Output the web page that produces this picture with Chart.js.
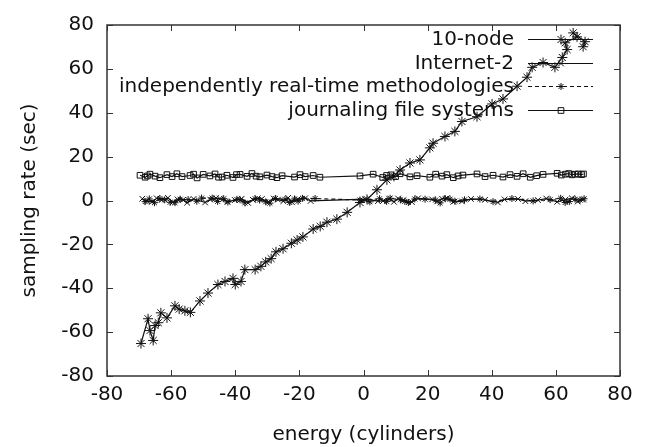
<!DOCTYPE html>
<html>
<head>
<meta charset="utf-8">
<script src="https://cdn.jsdelivr.net/npm/chart.js@4"></script>
<style>
    body { margin: 0; background: #fff; }
    canvas { display: block; }
</style>
</head>
<body>
<canvas id="energyChart" width="651" height="447"></canvas>
<script>
// tick labels
const xTicks = [-80, -60, -40, -20, 0, 20, 40, 60, 80];
const yTicks = [-80, -60, -40, -20, 0, 20, 40, 60, 80];

// series names
const seriesNames = ['10-node', 'Internet-2', 'independently real-time methodologies', 'journaling file systems'];

// 10-node (diagonal)
const tenNodeX = [-69.4, -67.2, -66.6, -65.6, -65.0, -64.0, -63.2, -61.3, -58.8, -57.5, -55.7, -54.0, -51.0, -48.5, -45.4, -43.2,
    -40.7, -40.0, -38.2, -37.0, -33.8, -32.0, -30.5, -28.8, -27.3, -25.1, -22.5, -20.7, -18.9, -15.7, -13.5, -11.4, -8.3, -5.1,
    -1.1, 1.1, 4.2, 7.3, 9.5, 11.4, 14.5, 17.6, 20.7, 21.7, 25.4, 28.5, 30.7, 35.4, 40.1, 43.5, 47.9, 51.0, 52.6, 56.0, 59.7,
    62.0, 63.5, 62.9, 66.6, 65.4, 69.1, 68.5];
const tenNodeY = [-65.2, -53.9, -59.3, -63.8, -57.0, -55.7, -51.2, -53.5, -48.0, -49.5, -50.3, -51.0, -45.8, -42.2, -38.3, -36.9,
    -35.5, -38.3, -36.9, -31.5, -31.5, -30.0, -28.0, -26.5, -23.4, -22.0, -19.5, -18.0, -16.6, -13.0, -11.8, -9.9, -8.5, -5.4,
    -0.9, 0.5, 4.9, 9.4, 11.0, 13.9, 17.1, 18.5, 24.0, 26.1, 29.2, 31.5, 36.0, 38.2, 44.0, 46.3, 52.1, 56.2, 60.7, 62.9, 60.7,
    65.2, 68.8, 71.9, 74.6, 76.4, 72.4, 70.1];

// Internet-2 (around 0)
const internetX = [-69, -67.5, -66, -64.5, -63, -61, -59.5, -58, -56.3, -55, -53, -49.4, -47.8, -46, -44.8, -42.5, -40.1, -38,
    -36, -34.5, -33, -31.7, -29.5, -28, -26.7, -25, -23.5, -22.3, -20.5, -18.2, -16.5, 0.5, 4.5, 6.1, 8, 9.5, 10.8, 12.5, 15.1,
    17, 21.4, 23, 24.5, 26, 28, 30.7, 33.5, 37.9, 41.9, 44, 48.2, 50.5, 54.4, 57, 60.4, 63, 65, 66.8, 68.5];
const internetY = [0.8, -0.4, -0.6, 1.0, 0.2, 1.2, -0.8, 0.5, 0.3, -1.0, 0.7, -0.9, 0.4, 1.1, 0.9, -0.5, 0.2, 0.8,
    -1.1, 0.3, 1.0, 0.7, -0.6, 0.9, 0.4, -0.3, 1.2, -0.8, 0.6, 1.0, -0.2, 0.6, -0.3, -0.2, 0.8, -0.6, 0.9, 0.2, -0.7,
    1.0, 0.5, -0.4, 0.8, 1.1, -0.6, -0.4, 0.7, 0.3, -0.9, 0.5, 0.7, -0.3, 0.2, 0.9, -0.6, 0.4, 1.0, -0.5, 0.4];

// independently real-time methodologies (around 0, dashed)
const realTimeX = [-68.1, -66.8, -65.2, -63.5, -62, -60.3, -58.8, -57.2, -54.7, -52, -50.5, -47.2, -45.5, -43.6, -42.3, -39.5,
    -38.5, -37, -33.8, -32.4, -30.5, -29.2, -27.5, -24.5, -23, -21.5, -20.4, -19, -15.1, -1.1, 2, 5, 7.2, 8.3, 11.5, 12.9,
    14, 16, 19.2, 22.5, 23.9, 25.5, 27, 28.5, 31.5, 36.3, 40.4, 46.3, 52.9, 58.2, 61.5, 62.9, 64.2, 66, 67.5, 68.8];
const realTimeY = [-0.5, 0.7, -1.0, 0.9, 0.3, -0.8, -1.0, 0.6, 0.4, -0.3, 1.1, 1.1, -0.4, 0.8, -0.7, 0.5,
    0.3, -1.1, 0.8, 0.2, -0.6, -1.2, 0.9, 0.5, -0.9, 0.7, -0.3, 1.0, 0.9, 0.2, -0.6, 0.8, -0.4, 1.0, 0.3, -0.4,
    -0.9, 0.7, 0.6, 0.2, -1.1, 0.8, 0.6, -0.3, 0.3, 0.7, -0.5, 0.9, -0.2, 0.4, 1.0, -0.9, -0.5, 0.6, 0.2, 0.8];

// journaling file systems (around 11)
const journalingX = [-69.7, -68.1, -67.4, -66.6, -65, -63.5, -61.3, -59.7, -58.2, -56.6, -54.1, -53, -51.9, -50, -47.9,
    -46.3, -45.2, -44.1, -42.6, -40.7, -39.6, -38.5, -36.3, -34.8, -33.5, -32.3, -30.1, -28.5, -27, -25.4, -21.5, -19.8,
    -18.2, -15.7, -13.6, -1.1, 3, 6, 7.2, 8.5, 10, 11.4, 14.5, 16.7, 20.7, 22.5, 24.5, 26, 28, 29.5, 31, 35.4, 37.9, 40.4,
    43.5, 45.7, 47.9, 49.8, 52, 54, 56, 60.4, 61.7, 63, 64, 65, 66, 67, 68, 68.6];
const journalingY = [11.5, 10.6, 11.2, 12.0, 11.1, 10.4, 11.8, 10.9, 12.2, 10.9, 11.4, 12.0, 10.3, 11.9, 11.2,
    12.1, 10.6, 10.7, 11.5, 10.5, 11.8, 11.9, 11.0, 12.3, 11.1, 10.8, 11.6, 10.9, 10.4, 11.3, 10.7, 11.8,
    10.9, 11.4, 10.6, 11.2, 12.0, 10.5, 11.4, 11.7, 10.9, 12.2, 10.8, 11.3, 10.6, 12.0, 11.1, 11.8, 10.4, 11.2,
    11.6, 12.1, 10.9, 11.5, 10.7, 11.8, 11.0, 12.2, 10.6, 11.3, 11.9, 12.4, 11.6, 12.0, 12.3, 11.7, 12.0, 12.1, 11.8, 12.1];

const FONT = 'DejaVu Sans';
const INK = '#111';
const LINE_W = 1.2;

function toPoints(xs, ys) {
    return xs.map((x, i) => ({ x: x, y: ys[i] }));
}

function makeDataset(label, xs, ys, style, radius, dash) {
    return {
        label: label,
        data: toPoints(xs, ys),
        showLine: true,
        borderColor: INK,
        backgroundColor: 'rgba(0,0,0,0)',
        borderWidth: LINE_W,
        borderDash: dash,
        pointStyle: style,
        pointRadius: radius,
        pointBorderColor: INK,
        pointBackgroundColor: 'rgba(0,0,0,0)',
        pointBorderWidth: 1,
        tension: 0
    };
}

// small marker for the key (same shapes as Chart.js draws)
function drawKeyMarker(ctx, style, r, x, y) {
    const d = r * Math.SQRT1_2;
    ctx.beginPath();
    if (style === 'star' || style === 'cross') {
        ctx.moveTo(x - r, y); ctx.lineTo(x + r, y);
        ctx.moveTo(x, y - r); ctx.lineTo(x, y + r);
    }
    if (style === 'star' || style === 'crossRot') {
        ctx.moveTo(x - d, y - d); ctx.lineTo(x + d, y + d);
        ctx.moveTo(x - d, y + d); ctx.lineTo(x + d, y - d);
    }
    if (style === 'rect') {
        ctx.rect(x - d, y - d, 2 * d, 2 * d);
    }
    ctx.stroke();
}

// gnuplot style border with inward ticks on all four sides
const boxPlugin = {
    id: 'gnuplotBox',
    afterDraw(chart) {
        const ctx = chart.ctx;
        const area = chart.chartArea;
        const xs = chart.scales.x;
        const ys = chart.scales.y;
        const len = 6;
        ctx.save();
        ctx.strokeStyle = '#333';
        ctx.lineWidth = 1.5;
        ctx.strokeRect(area.left, area.top, area.right - area.left, area.bottom - area.top);
        ctx.lineWidth = 1;
        ctx.beginPath();
        xTicks.forEach(v => {
            const px = Math.round(xs.getPixelForValue(v)) + 0.5;
            ctx.moveTo(px, area.bottom); ctx.lineTo(px, area.bottom - len);
            ctx.moveTo(px, area.top); ctx.lineTo(px, area.top + len);
        });
        yTicks.forEach(v => {
            const py = Math.round(ys.getPixelForValue(v)) + 0.5;
            ctx.moveTo(area.left, py); ctx.lineTo(area.left + len, py);
            ctx.moveTo(area.right, py); ctx.lineTo(area.right - len, py);
        });
        ctx.stroke();
        ctx.restore();
    }
};

// legend inside the plot: text right aligned, line sample on the right
const keyPlugin = {
    id: 'gnuplotKey',
    afterDatasetsDraw(chart) {
        const ctx = chart.ctx;
        const textRight = 514;
        const lineLeft = 528;
        const lineRight = 593;
        const rowTop = 39;
        const rowStep = 23.7;
        ctx.save();
        ctx.font = '20px "' + FONT + '"';
        ctx.textAlign = 'right';
        ctx.textBaseline = 'middle';
        chart.data.datasets.forEach((ds, i) => {
            const y = Math.round(rowTop + i * rowStep) + 0.5;
            ctx.fillStyle = INK;
            ctx.fillText(ds.label, textRight, y);
            ctx.strokeStyle = INK;
            ctx.lineWidth = LINE_W;
            ctx.setLineDash(ds.borderDash || []);
            ctx.beginPath();
            ctx.moveTo(lineLeft, y);
            ctx.lineTo(lineRight, y);
            ctx.stroke();
            ctx.setLineDash([]);
            ctx.lineWidth = 1;
            drawKeyMarker(ctx, ds.pointStyle, ds.pointRadius, 561, y);
        });
        ctx.restore();
    }
};

function renderEnergyChart() {
    const ctx = document.getElementById('energyChart').getContext('2d');
    const tickFont = { family: FONT, size: 20 };

    new Chart(ctx, {
        type: 'scatter',
        data: {
            datasets: [
                makeDataset(seriesNames[0], tenNodeX, tenNodeY, 'star', 5, []),
                makeDataset(seriesNames[1], internetX, internetY, 'crossRot', 4, []),
                makeDataset(seriesNames[2], realTimeX, realTimeY, 'star', 3.5, [4, 3]),
                makeDataset(seriesNames[3], journalingX, journalingY, 'rect', 4, [])
            ]
        },
        options: {
            responsive: false,
            animation: false,
            layout: { padding: { top: 20, right: 31, left: 0, bottom: 0 } },
            plugins: {
                legend: { display: false },
                tooltip: { enabled: false }
            },
            scales: {
                x: {
                    type: 'linear',
                    min: -80,
                    max: 80,
                    afterFit: scale => { scale.height = 71; },
                    afterBuildTicks: scale => { scale.ticks = xTicks.map(v => ({ value: v })); },
                    grid: { display: false, drawTicks: false },
                    border: { display: false },
                    ticks: { font: tickFont, color: INK, padding: 7, maxRotation: 0, autoSkip: false },
                    title: {
                        display: true,
                        text: 'energy (cylinders)',
                        font: { family: FONT, size: 20, lineHeight: 1.2 },
                        color: INK,
                        padding: { top: 0, bottom: 0 }
                    }
                },
                y: {
                    type: 'linear',
                    min: -80,
                    max: 80,
                    afterFit: scale => { scale.width = 107; },
                    afterBuildTicks: scale => { scale.ticks = yTicks.map(v => ({ value: v })); },
                    grid: { display: false, drawTicks: false },
                    border: { display: false },
                    ticks: { font: tickFont, color: INK, padding: 13, autoSkip: false },
                    title: {
                        display: true,
                        text: 'sampling rate (sec)',
                        font: { family: FONT, size: 20, lineHeight: 1 },
                        color: INK,
                        padding: { top: 20, bottom: 0 }
                    }
                }
            }
        },
        plugins: [boxPlugin, keyPlugin]
    });
}

renderEnergyChart();
</script>
</body>
</html>
